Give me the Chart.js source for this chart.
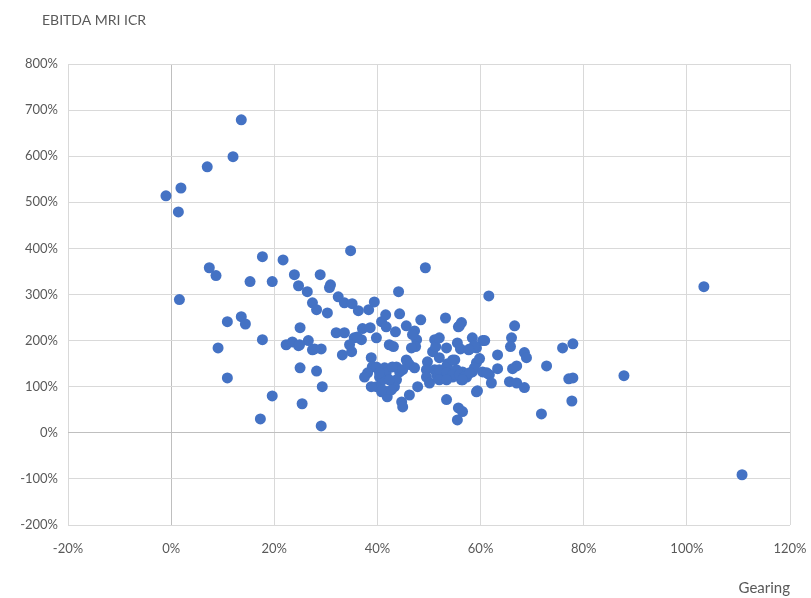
<!DOCTYPE html>
<html>
<head>
<meta charset="utf-8">
<script src="https://cdn.jsdelivr.net/npm/chart.js@4"></script>
<style>
  html, body { margin: 0; padding: 0; background: #fff; }
  #chart { display: block; }
</style>
</head>
<body>
<canvas id="chart" width="811" height="598"></canvas>
<script>
// Gearing (%) and EBITDA MRI ICR (%), one entry per dot
const gearing = [
  -1, 1.9, 1.4, 1.6, 7, 12, 13.6, 7.4, 8.7, 9.1, 10.9, 10.9, 13.6, 14.4, 15.3, 17.7, 17.7, 17.3, 19.6, 19.6,
  21.7, 22.3, 23.5, 23.9, 24.7, 25, 24.7, 25, 25.4, 26.4, 26.6, 27.4, 28.2, 27.4, 28.2, 28.9, 29.1, 29.3, 29.1, 30.3,
  30.9, 30.7, 32.4, 32, 33.2, 33.6, 34.8, 35.1, 36.3, 33.6, 35, 35.5, 36.9, 37.1, 38.6, 38.3, 39.4, 39.8, 38.8, 39,
  38.1, 37.5, 39.8, 41.4, 41.7, 40.4, 41, 39.8, 38.8, 40.8, 41.6, 41.9, 40.8, 41.6, 41.7, 43.5, 42.3, 43.1, 44.1, 44.3,
  45.6, 47.2, 47.6, 47.4, 48.4, 43.7, 44.3, 45.6, 46.2, 47.2, 43.7, 43.3, 44.7, 44.9, 46.2, 47.8, 49.3, 49.7, 49.5, 50.7,
  51.1, 51.3, 51.1, 51.5, 49.5, 50.1, 51.7, 52.6, 53.6, 54.6, 53.2, 53.4, 53.4, 55, 55.5, 56.3, 55.7, 56.1, 55.3, 56.5,
  57.3, 58.4, 59.2, 56.3, 53.4, 55.7, 56.5, 55.5, 59.2, 57.9, 59.2, 58.4, 60.4, 60.8, 61.6, 58.8, 59.8, 58.8, 61.7, 62.1,
  63.3, 63.3, 66, 65.8, 66.6, 67, 66.2, 65.6, 67, 68.5, 68.9, 68.5, 59.4, 72.8, 71.8, 75.9, 77.9, 77.1, 77.9, 77.7,
  87.8, 103.3, 110.7, 24.9, 27.8, 52, 52, 53.6, 54.6, 52, 53.4, 54.6, 55.9, 56.9, 57.9, 60.4, 52, 53.4, 56.5, 55.9,
  57.7, 61.2, 34.6, 36.1, 46.6, 46.8, 45.8, 44.9, 42.3, 41, 42.7, 42.9, 40.4
];
const icr = [
  514, 531, 479, 289, 577, 599, 679, 358, 341, 184, 241, 119, 252, 236, 328, 382, 202, 30, 80, 328,
  375, 191, 197, 343, 319, 228, 189, 141, 63, 306, 200, 282, 267, 180, 134, 343, 182, 100, 15, 260,
  321, 315, 295, 217, 169, 282, 395, 280, 265, 217, 176, 206, 202, 226, 228, 267, 284, 206, 163, 143,
  130, 121, 143, 141, 130, 121, 115, 100, 100, 89, 89, 78, 241, 256, 230, 219, 191, 187, 306, 258,
  232, 221, 202, 187, 245, 143, 132, 158, 148, 141, 115, 100, 67, 56, 82, 100, 358, 154, 137, 176,
  202, 187, 137, 126, 121, 108, 119, 121, 130, 121, 249, 184, 143, 158, 195, 239, 230, 182, 137, 132,
  121, 132, 152, 115, 72, 54, 46, 28, 89, 182, 184, 206, 200, 200, 297, 189, 161, 141, 126, 108,
  169, 139, 206, 187, 232, 145, 139, 111, 108, 174, 163, 98, 91, 145, 41, 184, 193, 117, 119, 69,
  124, 317, -91, 191, 182, 206, 163, 150, 158, 137, 130, 126, 126, 121, 130, 132, 115, 115, 115, 232,
  180, 130, 191, 208, 184, 213, 154, 137, 115, 93, 93, 143, 130
];

const xTicks = [-20, 0, 20, 40, 60, 80, 100, 120];
const yTicks = [-200, -100, 0, 100, 200, 300, 400, 500, 600, 700, 800];
const chartTitle = 'EBITDA MRI ICR';

const points = gearing.map((g, i) => ({ x: g, y: icr[i] }));

const textColor = '#595959';
const fontFamily = 'Lato, "Open Sans", sans-serif';
const gridColor = ctx => (ctx.tick && ctx.tick.value === 0 ? '#bfbfbf' : '#d9d9d9');

// title sits over the y labels, so draw it ourselves at the left
const titlePlugin = {
  id: 'leftTitle',
  afterDraw(chart) {
    const c = chart.ctx;
    c.save();
    c.font = '14px ' + fontFamily;
    c.fillStyle = textColor;
    c.textAlign = 'left';
    c.textBaseline = 'middle';
    c.fillText(chartTitle, 42, 20);
    c.restore();
  }
};

new Chart(document.getElementById('chart').getContext('2d'), {
  type: 'scatter',
  data: {
    datasets: [{
      data: points,
      backgroundColor: '#4472C4',
      borderWidth: 0,
      pointRadius: 5.5,
      pointHoverRadius: 5.5
    }]
  },
  options: {
    responsive: false,
    animation: false,
    layout: { padding: { left: 0, right: 21, top: 64, bottom: 0 } },
    plugins: {
      legend: { display: false },
      tooltip: { enabled: false }
    },
    scales: {
      x: {
        type: 'linear',
        min: xTicks[0],
        max: xTicks[xTicks.length - 1],
        afterBuildTicks: s => { s.ticks = xTicks.map(v => ({ value: v })); },
        afterFit: s => { s.height = 73; },
        grid: { color: gridColor, drawTicks: true, tickLength: 13, tickColor: 'rgba(0,0,0,0)', lineWidth: 1 },
        border: { display: false },
        ticks: {
          color: textColor,
          padding: 3,
          maxRotation: 0,
          font: { family: fontFamily, size: 13 },
          callback: v => v + '%'
        },
        title: {
          display: true,
          text: 'Gearing',
          align: 'end',
          color: textColor,
          font: { family: fontFamily, size: 15 },
          padding: { top: 0, bottom: 1 }
        }
      },
      y: {
        type: 'linear',
        min: yTicks[0],
        max: yTicks[yTicks.length - 1],
        afterBuildTicks: s => { s.ticks = yTicks.map(v => ({ value: v })); },
        afterFit: s => { s.width = 68; },
        grid: { color: gridColor, drawTicks: false, lineWidth: 1 },
        border: { display: false },
        ticks: {
          color: textColor,
          padding: 10,
          font: { family: fontFamily, size: 13 },
          callback: v => v + '%'
        }
      }
    }
  },
  plugins: [titlePlugin]
});
</script>
</body>
</html>
